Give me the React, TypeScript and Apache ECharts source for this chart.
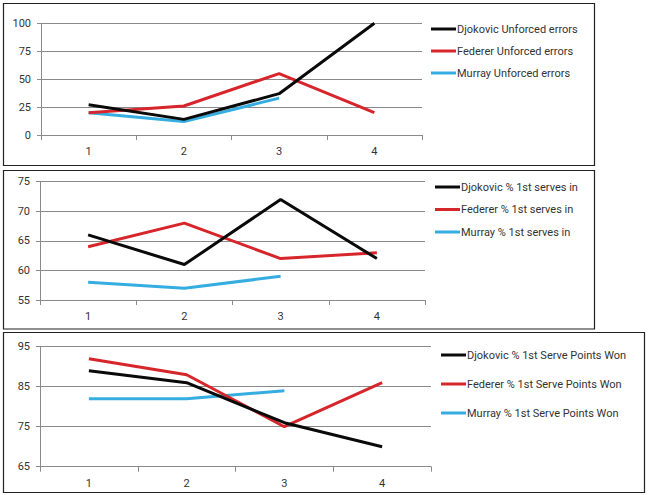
import React, { useEffect, useRef } from "react";
import * as echarts from "echarts";

const categories = ["1", "2", "3", "4"];

const unforcedNames = ["Djokovic Unforced errors", "Federer Unforced errors", "Murray Unforced errors"];
const djokovicUnforced = [27, 14, 37, 100];
const federerUnforced = [20, 26, 55, 20];
const murrayUnforced = [20, 12, 33];

const serveInNames = ["Djokovic % 1st serves in", "Federer % 1st serves in", "Murray % 1st serves in"];
const djokovicServeIn = [66, 61, 72, 62];
const federerServeIn = [64, 68, 62, 63];
const murrayServeIn = [58, 57, 59];

const pointsWonNames = [
  "Djokovic % 1st Serve Points Won",
  "Federer % 1st Serve Points Won",
  "Murray % 1st Serve Points Won",
];
const djokovicPointsWon = [89, 86, 76, 70];
const federerPointsWon = [92, 88, 75, 86];
const murrayPointsWon = [82, 82, 84];

const ticks1 = [0, 25, 50, 75, 100];
const ticks2 = [55, 60, 65, 70, 75];
const ticks3 = [65, 75, 85, 95];

const colors = ["#0a0a0a", "#d7262b", "#35ade0"];
const FONT = "Roboto";
const TEXT = "#333333";
const AXIS = "#8a8a8a";

export default function App() {
  const ref = useRef<HTMLDivElement>(null);

  useEffect(() => {
    if (!ref.current) return;
    const chart = echarts.init(ref.current, undefined, { renderer: "svg" });

    const grids = [
      { left: 41, top: 23.3, width: 381, height: 111.7 },
      { left: 40, top: 181.7, width: 385, height: 118.3 },
      { left: 40, top: 346.7, width: 391, height: 120 },
    ];
    const yRanges = [
      { min: 0, max: 100, ticks: ticks1 },
      { min: 55, max: 75, ticks: ticks2 },
      { min: 65, max: 95, ticks: ticks3 },
    ];
    const nameSets = [unforcedNames, serveInNames, pointsWonNames];
    const dataSets = [
      [djokovicUnforced, federerUnforced, murrayUnforced],
      [djokovicServeIn, federerServeIn, murrayServeIn],
      [djokovicPointsWon, federerPointsWon, murrayPointsWon],
    ];
    const legendPos = [
      { left: 431, top: 22, gap: 8 },
      { left: 435, top: 180, gap: 8.5 },
      { left: 441, top: 348, gap: 15 },
    ];

    const series: any[] = [];
    nameSets.forEach((names, gi) => {
      names.forEach((name, si) => {
        series.push({
          type: "line",
          name,
          xAxisIndex: gi,
          yAxisIndex: gi,
          data: dataSets[gi][si],
          symbol: "none",
          color: colors[si],
          lineStyle: { width: 3, color: colors[si] },
          z: 3 - si + 2,
        });
      });
    });

    chart.setOption({
      animation: false,
      backgroundColor: "#ffffff",
      textStyle: { fontFamily: FONT },
      graphic: [
        { type: "rect", shape: { x: 3.5, y: 3.5, width: 591, height: 162 }, style: { fill: "none", stroke: "#222", lineWidth: 1.2 }, z: 100 },
        { type: "rect", shape: { x: 3.5, y: 170.5, width: 591, height: 158.5 }, style: { fill: "none", stroke: "#222", lineWidth: 1.2 }, z: 100 },
        { type: "rect", shape: { x: 3.5, y: 332.5, width: 641, height: 160 }, style: { fill: "none", stroke: "#222", lineWidth: 1.2 }, z: 100 },
      ],
      grid: grids,
      xAxis: grids.map((_, i) => ({
        type: "category",
        gridIndex: i,
        data: categories,
        boundaryGap: true,
        axisLine: { show: true, lineStyle: { color: AXIS, width: 1 } },
        axisTick: { show: true, alignWithLabel: false, length: 5, lineStyle: { color: AXIS } },
        axisLabel: { color: TEXT, fontSize: 11, fontFamily: FONT, margin: 11 },
        splitLine: { show: false },
      })),
      yAxis: yRanges.map((r, i) => ({
        type: "value",
        gridIndex: i,
        min: r.min,
        max: r.max,
        axisLine: { show: true, lineStyle: { color: AXIS, width: 1 } },
        axisTick: { show: true, length: 4, customValues: r.ticks, lineStyle: { color: AXIS } },
        axisLabel: { color: TEXT, fontSize: 11, fontFamily: FONT, margin: 10, customValues: r.ticks },
        splitLine: { show: true, lineStyle: { color: AXIS, width: 1 } },
      })),
      legend: nameSets.map((names, i) => ({
        orient: "vertical",
        left: legendPos[i].left,
        top: legendPos[i].top,
        data: names,
        icon: "rect",
        itemWidth: 25,
        itemHeight: 3,
        itemGap: legendPos[i].gap,
        padding: 0,
        selectedMode: false,
        textStyle: { color: TEXT, fontSize: 11, fontFamily: FONT, lineHeight: 14, padding: [0, 0, 0, -4] },
      })),
      series,
    });

    return () => chart.dispose();
  }, []);

  return (
    <div
      ref={ref}
      style={{ position: "fixed", left: 0, top: 0, width: 650, height: 495 }}
    />
  );
}
